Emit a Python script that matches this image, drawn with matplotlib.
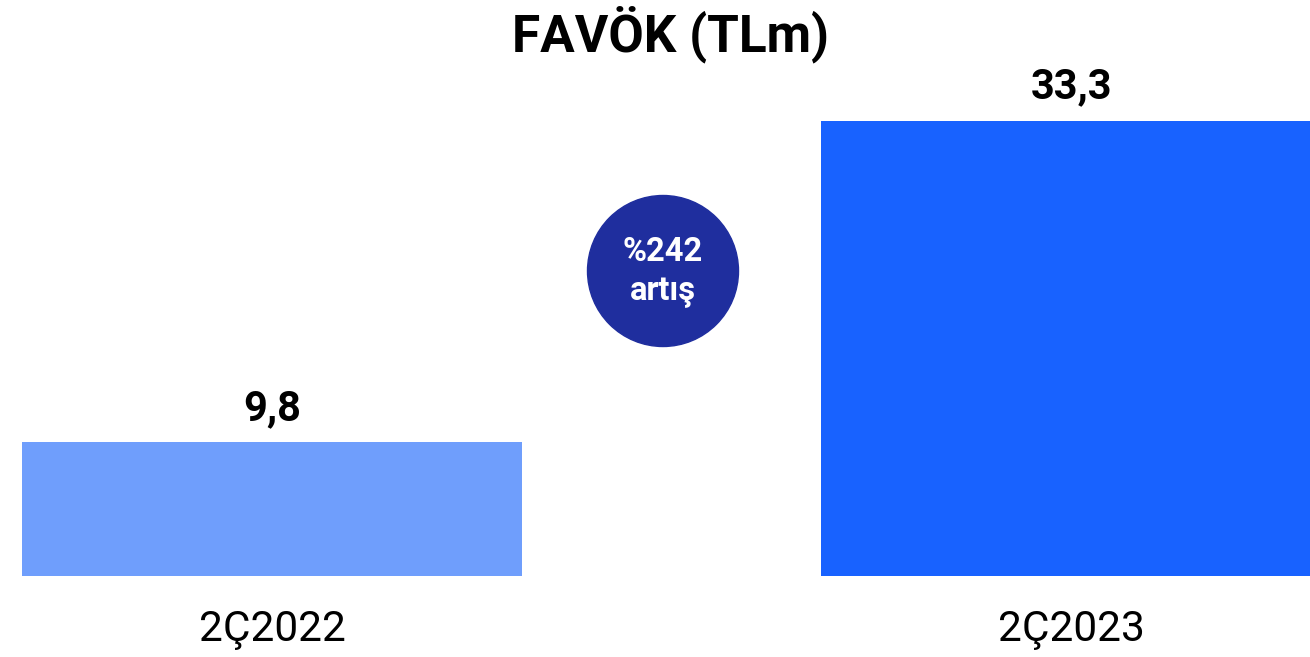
import matplotlib.pyplot as plt
from matplotlib.patches import Circle

plt.rcParams['font.family'] = ['Roboto', 'DejaVu Sans']

periods = ['2Ç2022', '2Ç2023']
values = [9.8, 33.3]
value_labels = ['9,8', '33,3']
bar_colors = ['#6F9EFC', '#1862FF']
change_text = '%242\nartış'

W, H = 1310, 657
fig = plt.figure(figsize=(W / 100, H / 100), dpi=100)
fig.set_facecolor('white')
ax = fig.add_axes([22 / W, 81 / H, 1 - 22 / W, 492 / H])

width = 0.626
x = range(len(periods))
bars = ax.bar(x, values, width=width, color=bar_colors)
# right bar runs off the right edge a little
ax.set_xlim(-width / 2, 1.299)
ax.set_ylim(0, 36)

for b, lab in zip(bars, value_labels):
    ax.annotate(lab, (b.get_x() + b.get_width() / 2, b.get_height()),
                xytext=(0, 16), textcoords='offset points',
                ha='center', va='baseline', fontsize=30, fontweight='bold')

ax.set_xticks(list(x))
ax.set_xticklabels(periods, fontsize=30.5)
ax.tick_params(axis='x', length=0, pad=24)
ax.set_yticks([])
for s in ax.spines.values():
    s.set_visible(False)

# growth bubble, drawn in figure pixels so it stays round
cx, cy, r = 663, H - 271, 75.5
fig.patches.append(Circle((cx, cy), r, transform=None, color='#1F2E9E'))
fig.text(cx / W, (cy - 1) / H, change_text, ha='center', va='center',
         color='white', fontsize=23.5, fontweight='bold', linespacing=1.25)

fig.text(671 / W, 1 - 34 / H, 'FAVÖK (TLm)', ha='center', va='center',
         fontsize=37, fontweight='bold')

fig.savefig('out.png', dpi=100)
